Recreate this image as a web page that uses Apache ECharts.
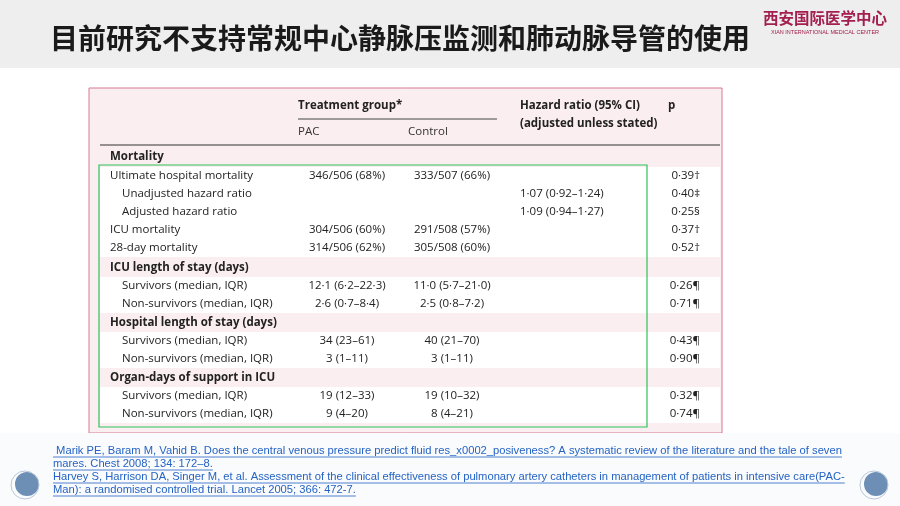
<!DOCTYPE html><html><head><meta charset="utf-8">
<script src="https://cdn.jsdelivr.net/npm/echarts@6/dist/echarts.min.js"></script>
<style>html,body{margin:0;padding:0;background:#fff}#c{width:900px;height:506px}</style></head><body><div id="c"></div>
<script>
const title = "目前研究不支持常规中心静脉压监测和肺动脉导管的使用";
const logoCn = "西安国际医学中心";
const logoEn = "XIAN INTERNATIONAL MEDICAL CENTER";
const headers = {group:"Treatment group*", pac:"PAC", control:"Control", hr1:"Hazard ratio (95% CI)", hr2:"(adjusted unless stated)", p:"p"};
const rowLabels = ["Mortality","Ultimate hospital mortality","Unadjusted hazard ratio","Adjusted hazard ratio","ICU mortality","28-day mortality","ICU length of stay (days)","Survivors (median, IQR)","Non-survivors (median, IQR)","Hospital length of stay (days)","Survivors (median, IQR)","Non-survivors (median, IQR)","Organ-days of support in ICU","Survivors (median, IQR)","Non-survivors (median, IQR)"];
const rowTypes = ["s","r","i","i","r","r","s","i","i","s","i","i","s","i","i"];
const pacValues = ["","346/506 (68%)","","","304/506 (60%)","314/506 (62%)","","12·1 (6·2–22·3)","2·6 (0·7–8·4)","","34 (23–61)","3 (1–11)","","19 (12–33)","9 (4–20)"];
const controlValues = ["","333/507 (66%)","","","291/508 (57%)","305/508 (60%)","","11·0 (5·7–21·0)","2·5 (0·8–7·2)","","40 (21–70)","3 (1–11)","","19 (10–32)","8 (4–21)"];
const hrValues = ["","","1·07 (0·92–1·24)","1·09 (0·94–1·27)","","","","","","","","","","",""];
const pValues = ["","0·39†","0·40‡","0·25§","0·37†","0·52†","","0·26¶","0·71¶","","0·43¶","0·90¶","","0·32¶","0·74¶"];
const references = [" Marik PE, Baram M, Vahid B. Does the central venous pressure predict fluid res_x0002_posiveness? A systematic review of the literature and the tale of seven","mares. Chest 2008; 134: 172–8.","Harvey S, Harrison DA, Singer M, et al. Assessment of the clinical effectiveness of pulmonary artery catheters in management of patients in intensive care(PAC-","Man): a randomised controlled trial. Lancet 2005; 366: 472-7."];
const rowY = [157,176,194,212,230,248,268,286,304,323,341,359,378,396,414];

const F = "'Open Sans','Noto Sans',sans-serif";
const refFont = "11.2px 'Liberation Sans Narrow','Liberation Sans',Arial,sans-serif";
const mc = document.createElement('canvas').getContext('2d');
function tw(t,font){mc.font=font;return mc.measureText(t).width;}

const g = [];
g.push({type:'rect',shape:{x:0,y:0,width:900,height:68},style:{fill:'#eeeeef'}});
g.push({type:'text',x:50,y:38,style:{text:title,font:"bold 28px 'Noto Sans CJK SC',sans-serif",fill:'#1a1a1a',textVerticalAlign:'middle'}});
g.push({type:'text',x:825,y:18,style:{text:logoCn,font:"bold 15.5px 'Noto Sans CJK SC',sans-serif",fill:'#a3204e',textAlign:'center',textVerticalAlign:'middle'}});
g.push({type:'text',x:825,y:32,style:{text:logoEn,font:"5.5px 'Liberation Sans',sans-serif",fill:'#a3204e',textAlign:'center',textVerticalAlign:'middle'}});
g.push({type:'rect',shape:{x:89,y:88,width:633,height:345},style:{fill:'#fbeef0',stroke:'#d57a93',lineWidth:1}});
rowTypes.forEach((t,i)=>{ if(t!=='s') g.push({type:'rect',shape:{x:100,y:rowY[i]-9,width:620,height:18},style:{fill:'#ffffff'}}); });
const hs = {font:"bold 11.5px "+F,fill:'#222',textVerticalAlign:'middle'};
g.push({type:'text',x:298,y:106,style:Object.assign({text:headers.group},hs)});
g.push({type:'text',x:520,y:106,style:Object.assign({text:headers.hr1},hs)});
g.push({type:'text',x:520,y:124,style:Object.assign({text:headers.hr2},hs)});
g.push({type:'text',x:668,y:106,style:Object.assign({text:headers.p},hs)});
g.push({type:'line',shape:{x1:298,y1:119,x2:497,y2:119},style:{stroke:'#444',lineWidth:1}});
g.push({type:'text',x:298,y:132,style:{text:headers.pac,font:"11.5px "+F,fill:'#333',textVerticalAlign:'middle'}});
g.push({type:'text',x:408,y:132,style:{text:headers.control,font:"11.5px "+F,fill:'#333',textVerticalAlign:'middle'}});
g.push({type:'line',shape:{x1:100,y1:145,x2:720,y2:145},style:{stroke:'#333',lineWidth:1}});
rowLabels.forEach((l,i)=>{
  const t=rowTypes[i], y=rowY[i];
  g.push({type:'text',x:t==='i'?122:110,y:y,style:{text:l,font:(t==='s'?'bold ':'')+"11.5px "+F,fill:'#222',textVerticalAlign:'middle'}});
  const ns={font:"11.5px "+F,fill:'#222',textVerticalAlign:'middle'};
  if(pacValues[i]) g.push({type:'text',x:347,y:y,style:Object.assign({text:pacValues[i],textAlign:'center'},ns)});
  if(controlValues[i]) g.push({type:'text',x:452,y:y,style:Object.assign({text:controlValues[i],textAlign:'center'},ns)});
  if(hrValues[i]) g.push({type:'text',x:520,y:y,style:Object.assign({text:hrValues[i]},ns)});
  if(pValues[i]) g.push({type:'text',x:700,y:y,style:Object.assign({text:pValues[i],textAlign:'right'},ns)});
});
g.push({type:'rect',shape:{x:99,y:165,width:548,height:262},style:{fill:'none',stroke:'#2fc25b',lineWidth:1.2}});
g.push({type:'rect',shape:{x:0,y:433,width:900,height:73},style:{fill:'#fafbfd'}});
references.forEach((r,i)=>{
  const y=451+i*13;
  g.push({type:'text',x:53,y:y,style:{text:r,font:refFont,fill:'#2563c4',textVerticalAlign:'middle'}});
  g.push({type:'line',shape:{x1:53,y1:y+6,x2:53+tw(r,refFont),y2:y+6},style:{stroke:'#2563c4',lineWidth:0.8}});
});
[[25,485],[874,485]].forEach(p=>{
  g.push({type:'circle',shape:{cx:p[0]+2,cy:p[1]-1,r:12},style:{fill:'#6e8fb5'}});
  g.push({type:'circle',shape:{cx:p[0],cy:p[1],r:14},style:{fill:'none',stroke:'#b9c8da',lineWidth:1}});
});
const chart = echarts.init(document.getElementById('c'));
chart.setOption({animation:false,graphic:{elements:g}});
</script></body></html>
